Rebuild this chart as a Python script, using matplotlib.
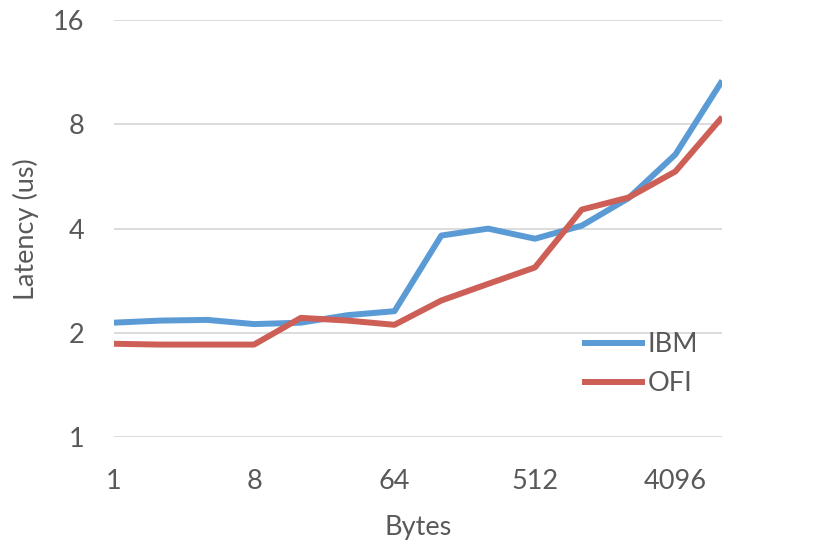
import matplotlib
matplotlib.use("Agg")
import matplotlib.pyplot as plt

plt.rcParams['font.family'] = ['Lato', 'DejaVu Sans']

# message sizes in bytes
sizes = [1, 2, 4, 8, 16, 32, 64, 128, 256, 512, 1024, 2048, 4096, 8192]
ibm = [2.14, 2.17, 2.18, 2.12, 2.14, 2.25, 2.31, 3.82, 4.0, 3.74, 4.08, 4.9, 6.55, 10.7]
ofi = [1.86, 1.85, 1.85, 1.85, 2.21, 2.17, 2.11, 2.48, 2.77, 3.09, 4.54, 4.92, 5.85, 8.4]
y_ticks = [1, 2, 4, 8, 16]

grey = '#595959'
fig = plt.figure(figsize=(8.17, 5.45), dpi=100)
ax = fig.add_axes([0.139, 0.198, 0.745, 0.765])

x = list(range(len(sizes)))
ax.plot(x, ibm, color='#5B9BD5', lw=4.3, label='IBM', solid_capstyle='butt')
ax.plot(x, ofi, color='#CD5F57', lw=4.3, label='OFI', solid_capstyle='butt')

ax.set_yscale('log', base=2)
ax.set_ylim(1, 16)
ax.set_yticks(y_ticks)
ax.set_yticklabels([str(v) for v in y_ticks])
ax.minorticks_off()
ax.set_xlim(0, len(sizes) - 1)
ax.set_xticks(x[::3])
ax.set_xticklabels([str(s) for s in sizes[::3]])

ax.grid(axis='y', color='#d9d9d9', lw=1.3)
ax.set_axisbelow(True)
for s in ax.spines.values():
    s.set_visible(False)
ax.tick_params(length=0, labelsize=19.5, colors=grey)
ax.tick_params(axis='y', pad=21)
ax.tick_params(axis='x', pad=23)

ax.set_xlabel('Bytes', fontsize=19.5, color=grey, labelpad=15)
ax.set_ylabel('Latency (us)', fontsize=19.5, color=grey, labelpad=10)

ax.legend(loc='lower right', bbox_to_anchor=(1.0, 0.04), frameon=False, fontsize=19.5,
          labelcolor=grey, handlelength=2.3, handletextpad=0.1, labelspacing=0.5)

fig.savefig('out.png', dpi=100)
